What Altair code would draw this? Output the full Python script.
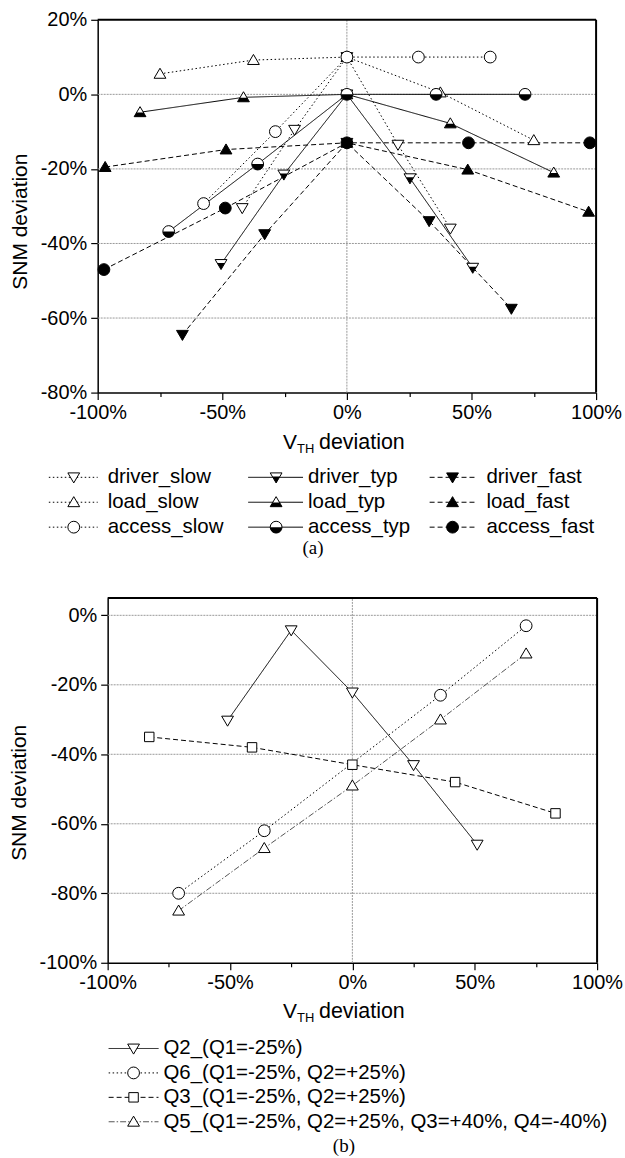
import altair as alt
import pandas as pd

# ---------------- chart (a) data: Vth deviation (%) -> SNM deviation (%) ----------------
series_a = ["driver_slow", "driver_typ", "driver_fast",
            "load_slow", "load_typ", "load_fast",
            "access_slow", "access_typ", "access_fast"]

driver_slow_x = [-42, -21, 0, 20.5, 41.5]
driver_slow_y = [-30.5, -9.5, 10, -13.5, -36]
driver_typ_x = [-50.5, -25.3, 0, 25.3, 50.5]
driver_typ_y = [-45.5, -21.5, 0, -22.5, -46.5]
driver_fast_x = [-66, -33, 0, 33, 66]
driver_fast_y = [-64.5, -37.5, -13, -34, -57.5]
load_slow_x = [-75, -37.5, 0, 37.5, 75]
load_slow_y = [5.5, 9.2, 10, 0.5, -12.3]
load_typ_x = [-83, -41.5, 0, 41.5, 83]
load_typ_y = [-4.8, -0.8, 0, -7.8, -21]
load_fast_x = [-97, -48.5, 0, 48.5, 97]
load_fast_y = [-19.5, -14.8, -13, -20.2, -31.5]
access_slow_x = [-57.5, -28.7, 0, 28.7, 57.5]
access_slow_y = [-29.3, -10, 10, 10, 10]
access_typ_x = [-71.5, -35.8, 0, 35.8, 71.5]
access_typ_y = [-36.8, -18.7, 0, 0, 0]
access_fast_x = [-97.5, -48.8, 0, 48.8, 97.5]
access_fast_y = [-47, -30.5, -13, -13, -13]

# ---------------- chart (b) data ----------------
series_b = ["Q2_(Q1=-25%)",
            "Q6_(Q1=-25%, Q2=+25%)",
            "Q3_(Q1=-25%, Q2=+25%)",
            "Q5_(Q1=-25%, Q2=+25%, Q3=+40%, Q4=-40%)"]
q2_x = [-51, -25, 0, 25, 51]
q2_y = [-30.3, -4.3, -22.2, -43.1, -66]
q6_x = [-71, -36, 36, 71]
q6_y = [-80, -62, -23, -3]
q3_x = [-83, -41, 0, 42, 83]
q3_y = [-35, -38, -43, -48, -57]
q5_x = [-71, -36, 0, 36, 71]
q5_y = [-85, -67, -49, -30, -11]

# tick values and grid lines
x_ticks = [-100, -75, -50, -25, 0, 25, 50, 75, 100]
y_ticks_a = list(range(-80, 21, 10))
y_ticks_b = list(range(-100, 1, 10))
hgrid_a = [0, -20, -40, -60]
hgrid_b = [0, -20, -40, -60, -80]
vgrid = [0]

# ---------------- styles ----------------
DOT = [1.5, 2.5]
DASH = [5, 3]
SOLID = [1, 0]
DASHDOT = [6, 2, 1.5, 2]
GRID_DASH = [2, 1]
GRID_COLOR = "#999999"
TRI_DOWN = "M-1,-0.75L1,-0.75L0,0.95Z"
TRI_UP = "M-1,0.75L1,0.75L0,-0.95Z"
CIRCLE = "circle"
SQUARE = "M-0.8,-0.8L0.8,-0.8L0.8,0.8L-0.8,0.8Z"
HALF_DOWN = "M-0.647,-0.15L0.647,-0.15L0,0.95Z"
HALF_UP = "M-0.588,0.05L0.588,0.05L1,0.75L-1,0.75Z"
HALF_CIRCLE = "M-1,0A1,1,0,0,0,1,0Z"
FONT = "Liberation Sans"
MSIZE = 140
LEG_FS = 20.5

# style: (dash, line colour, shape, fill, half-shape or None)
style_a = {
    "driver_slow": (DOT, "black", TRI_DOWN, "white", None),
    "driver_typ": (SOLID, "black", TRI_DOWN, "white", HALF_DOWN),
    "driver_fast": (DASH, "black", TRI_DOWN, "black", None),
    "load_slow": (DOT, "black", TRI_UP, "white", None),
    "load_typ": (SOLID, "black", TRI_UP, "white", HALF_UP),
    "load_fast": (DASH, "black", TRI_UP, "black", None),
    "access_slow": (DOT, "black", CIRCLE, "white", None),
    "access_typ": (SOLID, "black", CIRCLE, "white", HALF_CIRCLE),
    "access_fast": (DASH, "black", CIRCLE, "black", None),
}
style_b = {
    series_b[0]: (SOLID, "black", TRI_DOWN, "white", None),
    series_b[1]: (DOT, "black", CIRCLE, "white", None),
    series_b[2]: (DASH, "black", SQUARE, "white", None),
    series_b[3]: (DASHDOT, "#555555", TRI_UP, "white", None),
}

xy_a = {
    "driver_slow": (driver_slow_x, driver_slow_y),
    "driver_typ": (driver_typ_x, driver_typ_y),
    "driver_fast": (driver_fast_x, driver_fast_y),
    "load_slow": (load_slow_x, load_slow_y),
    "load_typ": (load_typ_x, load_typ_y),
    "load_fast": (load_fast_x, load_fast_y),
    "access_slow": (access_slow_x, access_slow_y),
    "access_typ": (access_typ_x, access_typ_y),
    "access_fast": (access_fast_x, access_fast_y),
}
xy_b = {
    series_b[0]: (q2_x, q2_y),
    series_b[1]: (q6_x, q6_y),
    series_b[2]: (q3_x, q3_y),
    series_b[3]: (q5_x, q5_y),
}


def long_df(xy):
    rows = []
    for s, (xs, ys) in xy.items():
        for xv, yv in zip(xs, ys):
            rows.append({"series": s, "x": xv, "y": yv})
    return pd.DataFrame(rows)


def make_axis_x():
    return alt.Axis(
        values=x_ticks, title=None, labelOverlap=False, labelFlush=False,
        labelExpr="datum.value % 50 === 0 ? datum.value + '%' : ''",
        tickSize={"condition": {"test": "datum.value % 50 === 0", "value": 7}, "value": 4},
        grid=False, domainWidth=1.5, tickWidth=1.2, labelPadding=3,
    )


def make_axis_y(ticks, offset=0, title_x=-77, title_y=None):
    kw = dict(
        values=ticks, title="SNM deviation", labelOverlap=False, labelFlush=False,
        labelExpr="datum.value % 20 === 0 ? datum.value + '%' : ''",
        tickSize={"condition": {"test": "datum.value % 20 === 0", "value": 7}, "value": 4},
        grid=False, domainWidth=1.5, tickWidth=1.2, labelPadding=4,
        titleX=title_x, titleBaseline="middle", titleAngle=-90, titleAlign="center",
    )
    if offset:
        kw["offset"] = offset
    if title_y is not None:
        kw["titleY"] = title_y
    return alt.Axis(**kw)


def plot(xy, styles, width, height, xscale, yscale, xaxis, yaxis, xlim, ylim, hgrid):
    df = long_df(xy)
    enc = dict(x=alt.X("x:Q", scale=xscale, axis=xaxis),
               y=alt.Y("y:Q", scale=yscale, axis=yaxis))
    layers = []
    # dotted horizontal grid lines (each one a two-point line across the x domain)
    grows = []
    for g in hgrid:
        grows.append({"series": f"grid{g}", "x": xlim[0], "y": g})
        grows.append({"series": f"grid{g}", "x": xlim[1], "y": g})
    gdf = pd.DataFrame(grows)
    layers.append(alt.Chart(gdf).mark_line(color=GRID_COLOR, strokeWidth=1, strokeDash=GRID_DASH).encode(
        detail="series:N", **enc))
    # dotted vertical grid line at 0
    vg = pd.DataFrame({"gx": vgrid, "y0": [ylim[0]] * len(vgrid), "y1": [ylim[1]] * len(vgrid)})
    layers.append(alt.Chart(vg).mark_rule(color=GRID_COLOR, strokeWidth=1, strokeDash=GRID_DASH).encode(
        x=alt.X("gx:Q", scale=xscale, axis=xaxis),
        y=alt.Y("y0:Q", scale=yscale, axis=yaxis), y2="y1:Q"))
    for s, (dash, col, shape, fill, half) in styles.items():
        layers.append(alt.Chart(df).transform_filter(alt.datum.series == s)
                      .mark_line(color=col, strokeWidth=1, strokeDash=dash).encode(**enc))
    for s, (dash, col, shape, fill, half) in styles.items():
        layers.append(alt.Chart(df).transform_filter(alt.datum.series == s)
                      .mark_point(shape=shape, filled=True, fill=fill, stroke="black",
                                  strokeWidth=1, size=MSIZE, opacity=1).encode(**enc))
        if half:
            layers.append(alt.Chart(df).transform_filter(alt.datum.series == s)
                          .mark_point(shape=half, filled=True, fill="black", strokeWidth=0,
                                      size=MSIZE, opacity=1).encode(**enc))
    one = pd.DataFrame({"a": [0]})
    top = alt.Chart(one).mark_rule(color="black", strokeWidth=2).encode(
        x=alt.datum(xlim[0]), x2=alt.datum(xlim[1]), y=alt.datum(ylim[1]))
    right = alt.Chart(one).mark_rule(color="black", strokeWidth=2).encode(
        x=alt.datum(xlim[1]), y=alt.datum(ylim[0]), y2=alt.datum(ylim[1]))
    layers += [top, right]
    return alt.layer(*layers).properties(width=width, height=height)


# ---------------- chart (a) ----------------
chart_a = plot(
    xy_a, style_a, 500, 374,
    alt.Scale(domain=[-100, 100], nice=False, zero=False),
    alt.Scale(domain=[-80, 20], nice=False, zero=False),
    make_axis_x(), make_axis_y(y_ticks_a, title_y=202),
    (-100, 100), (-80, 20), hgrid_a)

# ---------------- chart (b) ----------------
chart_b = plot(
    xy_b, style_b, 501, 366,
    alt.Scale(domain=[-100, 100], nice=False, zero=False, range=[10, 501]),
    alt.Scale(domain=[-100, 5], nice=False, zero=False),
    make_axis_x(), make_axis_y(y_ticks_b, offset=-10, title_x=-88, title_y=195),
    (-100, 100), (-100, 5), hgrid_b)


# ---------------- custom legends (pixel layout inside legend panels) ----------------
ORIGIN_X = 97


def legend_panel(names, styles, cols, rows, height, sub_y, tag, tag_xy):
    recs = []
    for i, s in enumerate(names):
        c, r = cols[i], rows[i]
        recs.append({"series": s, "x0": c[0] - ORIGIN_X, "x1": c[1] - ORIGIN_X,
                     "xm": c[2] - ORIGIN_X, "xt": c[3] - ORIGIN_X, "yy": r, "label": s})
    ldf = pd.DataFrame(recs)
    layers = []
    for s in names:
        dash, col, shape, fill, half = styles[s]
        f = alt.Chart(ldf).transform_filter(alt.datum.series == s)
        layers.append(f.mark_rule(color=col, strokeWidth=1, strokeDash=dash).encode(
            x=alt.X("x0:Q", scale=None, axis=None), x2="x1:Q",
            y=alt.Y("yy:Q", scale=None, axis=None)))
        layers.append(f.mark_point(shape=shape, filled=True, fill=fill, stroke="black",
                                   strokeWidth=1, size=MSIZE, opacity=1).encode(
            x=alt.X("xm:Q", scale=None, axis=None), y=alt.Y("yy:Q", scale=None, axis=None)))
        if half:
            layers.append(f.mark_point(shape=half, filled=True, fill="black", strokeWidth=0,
                                       size=MSIZE, opacity=1).encode(
                x=alt.X("xm:Q", scale=None, axis=None), y=alt.Y("yy:Q", scale=None, axis=None)))
    layers.append(alt.Chart(ldf).mark_text(align="left", baseline="middle", font=FONT,
                                           fontSize=LEG_FS, color="black").encode(
        x=alt.X("xt:Q", scale=None, axis=None), y=alt.Y("yy:Q", scale=None, axis=None),
        text="label:N"))
    one = pd.DataFrame({"a": [0]})
    # x-axis title "V_TH deviation" with subscript
    layers.append(alt.Chart(one).mark_text(text="V", align="left", baseline="alphabetic",
                                           font=FONT, fontSize=21, color="black").encode(
        x=alt.value(283 - ORIGIN_X), y=alt.value(sub_y)))
    layers.append(alt.Chart(one).mark_text(text="TH", align="left", baseline="alphabetic",
                                           font=FONT, fontSize=13, color="black").encode(
        x=alt.value(297 - ORIGIN_X), y=alt.value(sub_y + 4)))
    layers.append(alt.Chart(one).mark_text(text="deviation", align="left", baseline="alphabetic",
                                           font=FONT, fontSize=21.5, color="black").encode(
        x=alt.value(319 - ORIGIN_X), y=alt.value(sub_y)))
    layers.append(alt.Chart(one).mark_text(text=tag, align="center", baseline="middle",
                                           font="Liberation Serif", fontSize=19, color="black").encode(
        x=alt.value(tag_xy[0] - ORIGIN_X), y=alt.value(tag_xy[1])))
    return alt.layer(*layers).properties(width=500, height=height)


C1 = (48, 97, 73, 107)
C2 = (248, 303, 276, 308)
C3 = (430, 477, 453, 487)
cols_a = [C1, C2, C3] * 3
rows_a = [85] * 3 + [110] * 3 + [135] * 3
legend_a = legend_panel(series_a, style_a, cols_a, rows_a, 206, 57, "(a)", (313, 156))

CB = (108, 158, 133, 163)
cols_b = [CB] * 4
rows_b = [86, 110.5, 135, 159.5]
legend_b = legend_panel(series_b, style_b, cols_b, rows_b, 194, 55, "(b)", (344, 184))

chart = alt.vconcat(chart_a, legend_a, chart_b, legend_b, spacing=0, bounds="flush").configure(
    padding={"left": 9, "top": 8, "right": 2, "bottom": 0}
).configure_view(stroke=None).configure_axis(
    labelFont=FONT, titleFont=FONT, labelFontSize=20, titleFontSize=21,
    titleFontWeight="normal", labelColor="black", titleColor="black",
    domainColor="black", tickColor="black")

chart.save("out.html", embed_options={"renderer": "svg", "actions": False})
